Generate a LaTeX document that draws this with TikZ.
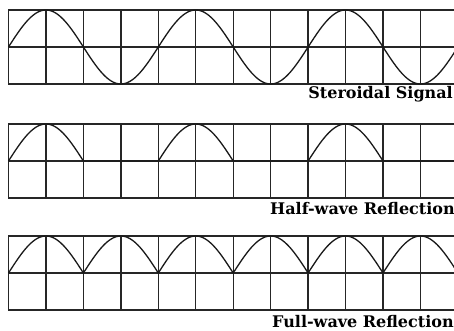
\documentclass[tikz,border=0pt]{standalone}
\usepackage{tikz}
\usepackage{fontspec}
\newfontfamily\captionfont{DejaVu Serif}

\begin{document}
\begin{tikzpicture}[x=1pt, y=-1pt,
  every node/.style={font=\captionfont\fontsize{16}{19}\selectfont\bfseries, inner sep=0pt},
  gridline/.style={line width=1.3pt, draw=black!85},
  wave/.style={line width=1.3pt, draw=black!90, line join=round}]
\useasboundingbox (0,0) rectangle (454,331);
\clip (0,0) rectangle (454,331);
% steroidal signal
\draw[gridline] (8.5,10) rectangle (470,84);
\draw[gridline] (8.5,47) -- (470,47);
\foreach \i in {1,...,11} \draw[gridline] ({8.5+37.45*\i},10) -- ++(0,74);
\draw[wave] plot[domain=0:12.4, samples=249] ({8.5+37.45*\x},{47-37*sin(90*\x)});
\node[anchor=base east] (lblsig) at (453,99) {Steroidal Signal};
% half-wave
\draw[gridline] (8.5,124) rectangle (470,198);
\draw[gridline] (8.5,161) -- (470,161);
\foreach \i in {1,...,11} \draw[gridline] ({8.5+37.45*\i},124) -- ++(0,74);
\draw[wave] plot[domain=0:12.4, samples=249] ({8.5+37.45*\x},{161-37*max(sin(90*\x),0)});
\node[anchor=base west] (lblhalf) at (270,214) {Half-wave Reflection};
% full-wave
\draw[gridline] (8.5,236) rectangle (470,310);
\draw[gridline] (8.5,273) -- (470,273);
\foreach \i in {1,...,11} \draw[gridline] ({8.5+37.45*\i},236) -- ++(0,74);
\draw[wave] plot[domain=0:12.4, samples=249] ({8.5+37.45*\x},{273-37*abs(sin(90*\x))});
\node[anchor=base west] (lblfull) at (272,327) {Full-wave Reflection};
\end{tikzpicture}
\end{document}
